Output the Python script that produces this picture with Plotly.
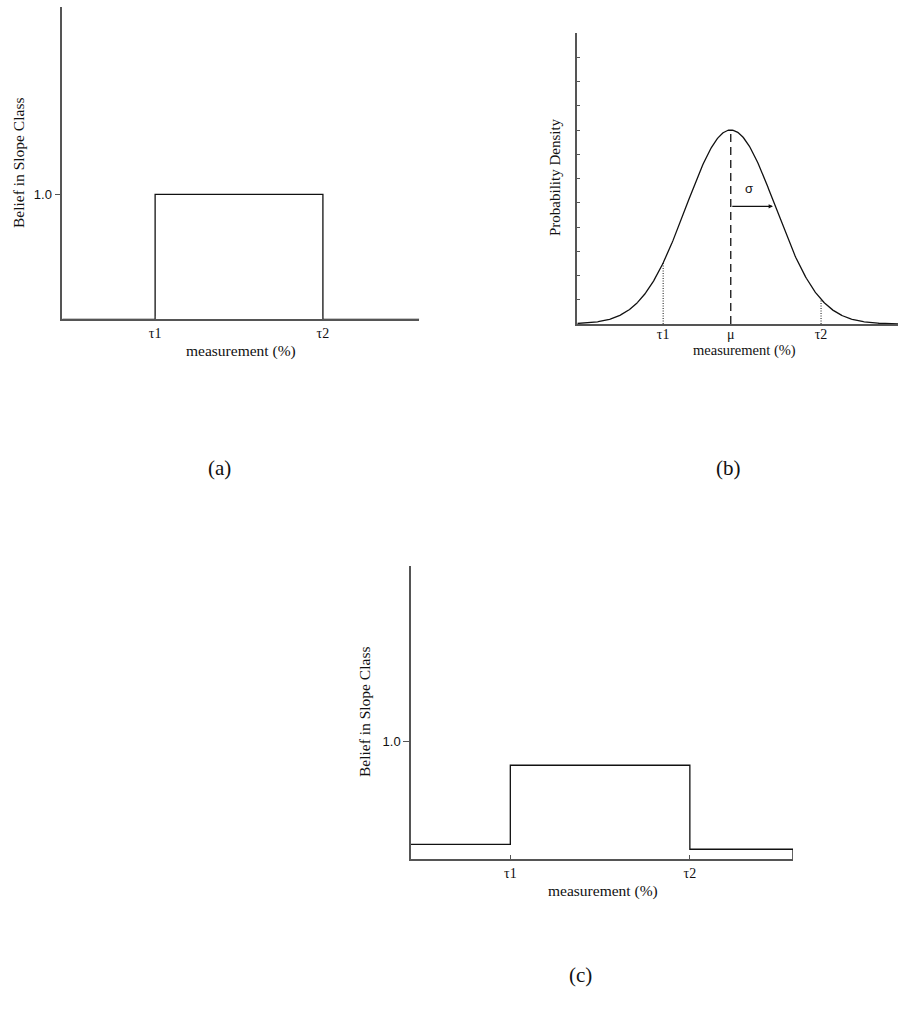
import numpy as np
import plotly.graph_objects as go

# ---------------- data ----------------
# (a) crisp slope class: belief 1 between thresholds
a_edges = [0.0, 2.6, 2.6, 7.3, 7.3, 10.0]
a_belief = [0.0, 0.0, 1.0, 1.0, 0.0, 0.0]
a_tickvals = [2.6, 7.3, 10.0]
a_ticktext = ["τ1", "τ2", ""]

# (b) normal measurement density (in units of sigma)
mu = 0.0
sigma = 1.0
peak = 1.0
b_xmin, b_xmax = -3.45, 3.76
tau1_b, tau2_b = -1.52, 2.03
b_tickvals = [tau1_b, mu, tau2_b]
b_ticktext = ["τ1", "μ", "τ2"]

# (c) belief after uncertainty: step levels
c_edges = [0.0, 2.6, 2.6, 7.3, 7.3, 10.0, 10.0]
c_belief = [0.125, 0.125, 0.80, 0.80, 0.083, 0.083, 0.0]
c_tickvals = [2.6, 7.3, 10.0]
c_ticktext = ["τ1", "τ2", ""]

W, H = 898, 1019
serif = "Liberation Serif, Times New Roman, serif"
sans = "Liberation Sans, Arial, sans-serif"
line_col = "#111111"
axis_col = "#555555"

fig = go.Figure()

# (a)
fig.add_trace(go.Scatter(x=a_edges, y=a_belief, mode="lines",
                         line=dict(color=line_col, width=1.3),
                         xaxis="x", yaxis="y", showlegend=False, hoverinfo="skip"))

# (b)
xs = np.linspace(b_xmin, b_xmax, 400)
dens = peak * np.exp(-0.5 * ((xs - mu) / sigma) ** 2)
fig.add_trace(go.Scatter(x=xs, y=dens, mode="lines",
                         line=dict(color=line_col, width=1.3),
                         xaxis="x2", yaxis="y2", showlegend=False, hoverinfo="skip"))
fig.add_trace(go.Scatter(x=[mu, mu], y=[0, peak], mode="lines",
                         line=dict(color=line_col, width=1.3, dash="8px,5px"),
                         xaxis="x2", yaxis="y2", showlegend=False, hoverinfo="skip"))
for t in (tau1_b, tau2_b):
    h = peak * np.exp(-0.5 * ((t - mu) / sigma) ** 2)
    fig.add_trace(go.Scatter(x=[t, t], y=[0, h], mode="lines",
                             line=dict(color=line_col, width=1, dash="1px,1.5px"),
                             xaxis="x2", yaxis="y2", showlegend=False, hoverinfo="skip"))

# (c)
fig.add_trace(go.Scatter(x=c_edges, y=c_belief, mode="lines",
                         line=dict(color=line_col, width=1.3),
                         xaxis="x3", yaxis="y3", showlegend=False, hoverinfo="skip"))

common_x = dict(showline=True, linecolor=axis_col, linewidth=1.5, showgrid=False,
                zeroline=False, tickfont=dict(family=serif, size=14, color="#111"),
                fixedrange=True)
common_y = dict(showline=True, linecolor=axis_col, linewidth=1.5, showgrid=False,
                zeroline=False, fixedrange=True)

sig_y = peak * np.exp(-0.5)

fig.update_layout(
    width=W, height=H, margin=dict(l=0, r=0, t=0, b=0),
    paper_bgcolor="white", plot_bgcolor="white",
    xaxis=dict(domain=[62.3 / W, 419.3 / W], range=[0, 10], anchor="y",
               tickvals=a_tickvals, ticktext=a_ticktext, ticks="inside",
               ticklen=4, tickcolor=axis_col, **common_x),
    yaxis=dict(domain=[1 - 319.3 / H, 1 - 7 / H], range=[0, 2.5], anchor="x",
               tickvals=[1.0], ticktext=["1.0"], ticks="outside", ticklen=6,
               tickcolor=axis_col, tickfont=dict(family=sans, size=13, color="#111"),
               **common_y),
    xaxis2=dict(domain=[577.3 / W, 1.0], range=[b_xmin, b_xmax], anchor="y2",
                tickvals=b_tickvals, ticktext=b_ticktext, ticks="inside", ticklen=4,
                tickcolor="rgba(0,0,0,0)", ticklabelstandoff=-4, **common_x),
    yaxis2=dict(domain=[1 - 324 / H, 1 - 33 / H], range=[0, 1.5], anchor="x2",
                dtick=0.125, tick0=0, ticks="inside", ticklen=3, tickcolor=axis_col,
                showticklabels=False, **common_y),
    xaxis3=dict(domain=[411 / W, 793 / W], range=[0, 10], anchor="y3",
                tickvals=c_tickvals, ticktext=c_ticktext, ticks="inside",
                ticklen=4, tickcolor=axis_col, **common_x),
    yaxis3=dict(domain=[1 - 859 / H, 1 - 566 / H], range=[0, 2.5], anchor="x3",
                tickvals=[1.0], ticktext=["1.0"], ticks="outside", ticklen=6,
                tickcolor=axis_col, tickfont=dict(family=sans, size=13, color="#111"),
                **common_y),
)

def ptxt(x, y, text, size, family=serif, angle=0):
    fig.add_annotation(x=x / W, y=1 - y / H, xref="paper", yref="paper", text=text,
                       showarrow=False, textangle=angle,
                       font=dict(family=family, size=size, color="#111"),
                       xanchor="center", yanchor="middle")

# axis titles
ptxt(18, 163, "Belief in Slope Class", 15.5, angle=-90)
ptxt(241, 351, "measurement (%)", 15.5)
ptxt(555, 177, "Probability Density", 15, angle=-90)
ptxt(744, 350, "measurement (%)", 14.5)
ptxt(364, 712, "Belief in Slope Class", 15.5, angle=-90)
ptxt(603, 891, "measurement (%)", 15.5)

# captions
ptxt(219, 468, "(a)", 21)
ptxt(728, 468, "(b)", 21)
ptxt(580, 975, "(c)", 21)

# sigma arrow
fig.add_annotation(x=0.95 * sigma + mu, y=sig_y, ax=mu, ay=sig_y,
                   xref="x2", yref="y2", axref="x2", ayref="y2",
                   showarrow=True, arrowhead=2, arrowsize=0.8, arrowwidth=1.1,
                   arrowcolor=line_col, text="")
fig.add_annotation(x=mu + 0.42 * sigma, y=sig_y + 0.045, xref="x2", yref="y2",
                   text="σ", showarrow=False, yanchor="bottom",
                   font=dict(family=sans, size=13, color="#111"))

fig.write_html("out.html", config={"displayModeBar": False},
               post_script="document.body.style.margin='0px';document.body.style.overflow='hidden';")
